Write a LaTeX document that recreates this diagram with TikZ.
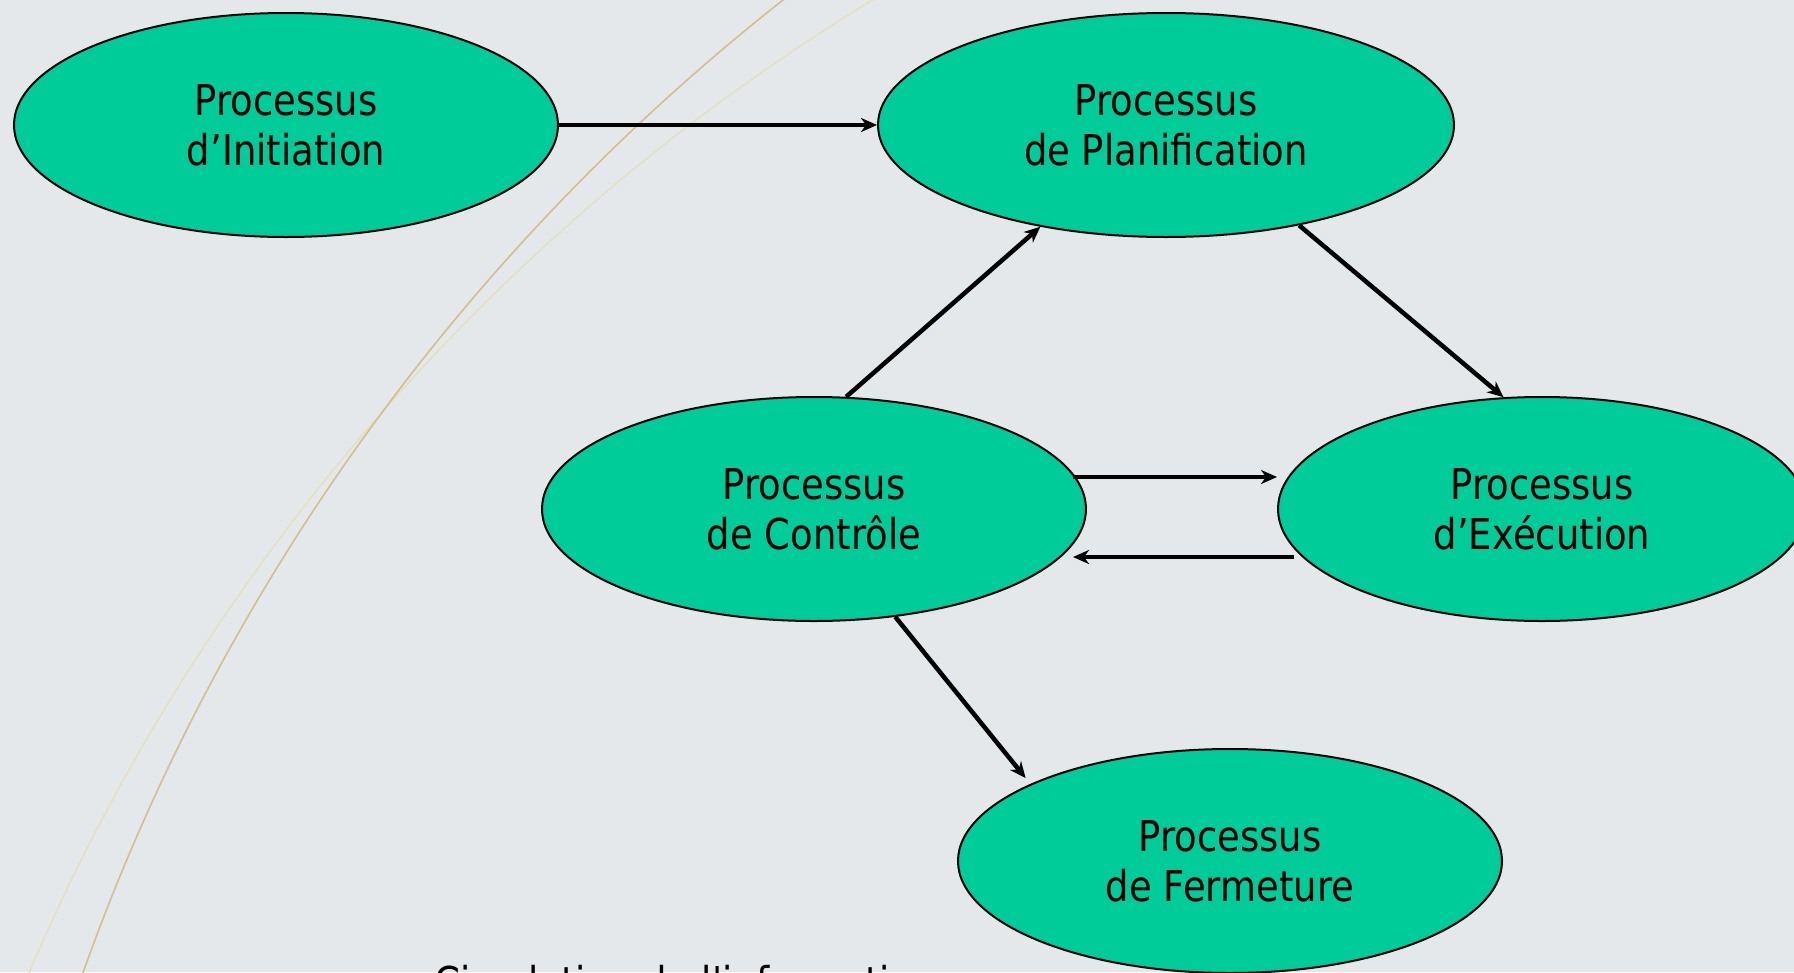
\documentclass[tikz,border=0pt]{standalone}
\usepackage{fontspec}
\setmainfont{DejaVu Sans}[FakeStretch=0.87]
\newfontfamily\plainfont{DejaVu Sans}[FakeStretch=0.87]
\usetikzlibrary{shapes.geometric,arrows.meta}
\definecolor{bgcol}{RGB}{228,232,235}
\definecolor{proccol}{RGB}{0,204,153}
\definecolor{arcdark}{RGB}{212,190,142}
\definecolor{arclight}{RGB}{228,224,192}
\begin{document}
\begin{tikzpicture}[x=1pt,y=-1pt,
  proc/.style={ellipse, draw=black, line width=2pt, fill=proccol,
    minimum width=544pt, minimum height=224pt, inner sep=0pt,
    align=center, font=\fontsize{42.5}{50}\selectfont},
  flow/.style={line width=4.5pt, -{Stealth[length=16pt,width=14pt,inset=5pt]}},
  deco/.style={line width=1.6pt}]
\useasboundingbox (0,0) rectangle (1794,972);
\fill[bgcol] (0,0) rectangle (1794,972);
\clip (0,0) rectangle (1794,972);
% background arcs (parts of two large circles)
\draw[deco, arclight] (1964,1798) circle[radius=2103pt];
\draw[deco, arcdark] (2114,1695) circle[radius=2155pt];
% process nodes
\node[proc] (ini) at (286,125) {Processus\\d’Initiation};
\node[proc, minimum width=576pt] (plan) at (1166,125) {Processus\\de Planification};
\node[proc] (ctl) at (814,509) {Processus\\de Contrôle};
\node[proc, minimum width=528pt] (exe) at (1542,509) {Processus\\d’Exécution};
\node[proc] (fer) at (1230,861) {Processus\\de Fermeture};
% connectors
\draw[flow] (ini.east) -- (plan.west);
\draw[flow] (ctl.74) -- (plan.219);
\draw[flow] (plan.323) -- (exe.109);
\draw[flow] ([xshift=-14pt,yshift=32pt]ctl.east) -- ([yshift=32pt]exe.west);
\draw[flow] ([xshift=17pt,yshift=-48pt]exe.west) -- ([xshift=-14pt,yshift=-48pt]ctl.east);
\draw[flow] (ctl.-53) -- ([xshift=-9pt,yshift=4pt]fer.158);
% caption (cut by the frame, as in the original)
\node[anchor=base, inner sep=0pt, font=\plainfont\fontsize{42.5}{50}\selectfont] (cap) at (685,997) {Circulation de l'information};
\end{tikzpicture}
\end{document}
